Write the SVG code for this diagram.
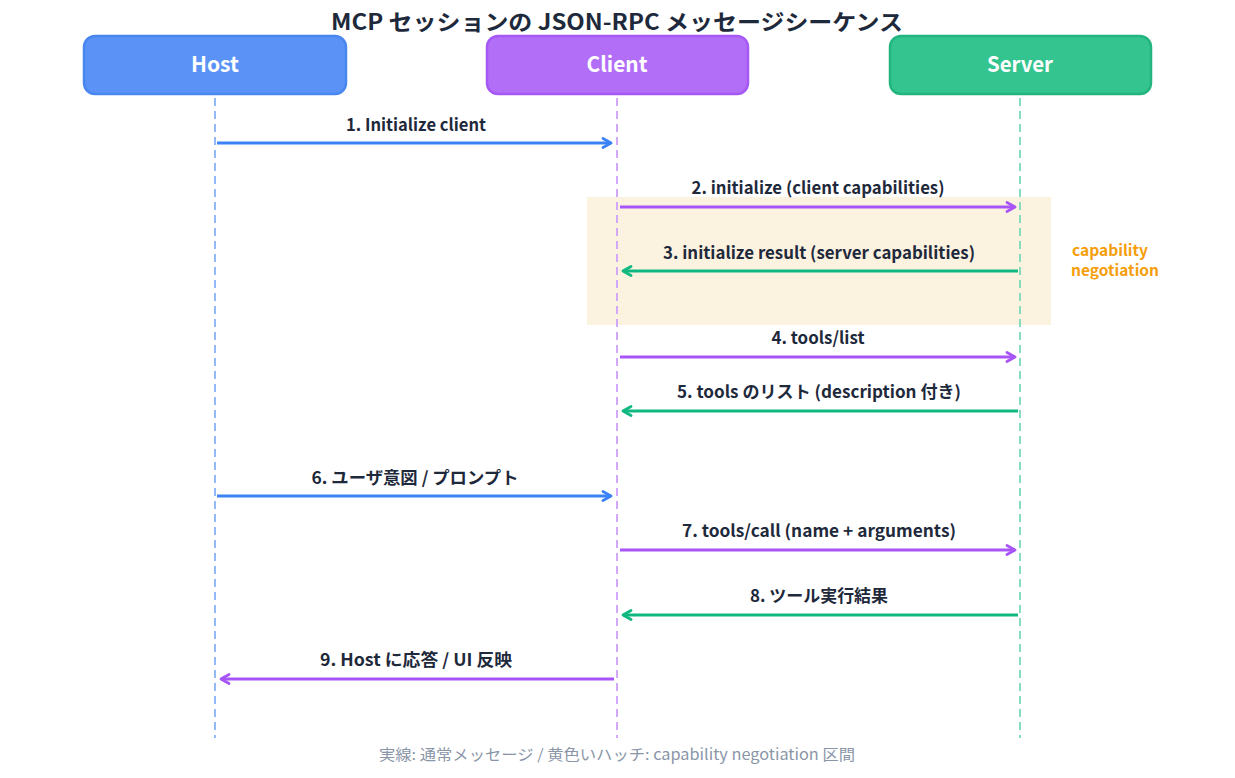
<svg xmlns="http://www.w3.org/2000/svg" width="1235" height="778" viewBox="0 0 1235 778">
<defs>
<style>
text{font-family:"Noto Sans CJK JP","Noto Sans",sans-serif}
.title{font-size:22px;font-weight:700;fill:#1e293b}
.box{font-size:21px;font-weight:700;fill:#ffffff}
.lbl{font-size:17px;font-weight:700;fill:#1e293b}
.note{font-size:15px;font-weight:700;fill:#f59e0b}
.foot{font-size:15px;font-weight:400;fill:#8a96a8}
.life{stroke-width:2;stroke-dasharray:8 5;fill:none}
.msg{stroke-width:2.8;fill:none}
</style>
<marker id="mb" viewBox="0 0 12 12" refX="10" refY="6" markerWidth="12" markerHeight="12" markerUnits="userSpaceOnUse" orient="auto"><path d="M2,1.5 L10,6 L2,10.5" fill="none" stroke="#3b82f6" stroke-width="2.8" stroke-linecap="round" stroke-linejoin="round"/></marker>
<marker id="mp" viewBox="0 0 12 12" refX="10" refY="6" markerWidth="12" markerHeight="12" markerUnits="userSpaceOnUse" orient="auto"><path d="M2,1.5 L10,6 L2,10.5" fill="none" stroke="#a855f7" stroke-width="2.8" stroke-linecap="round" stroke-linejoin="round"/></marker>
<marker id="mg" viewBox="0 0 12 12" refX="10" refY="6" markerWidth="12" markerHeight="12" markerUnits="userSpaceOnUse" orient="auto"><path d="M2,1.5 L10,6 L2,10.5" fill="none" stroke="#10b981" stroke-width="2.8" stroke-linecap="round" stroke-linejoin="round"/></marker>
</defs>
<rect width="1235" height="778" fill="#ffffff"/>
<text class="title" x="617" y="30" text-anchor="middle" textLength="572" lengthAdjust="spacingAndGlyphs">MCP セッションの JSON-RPC メッセージシーケンス</text>

<rect x="587" y="197" width="464" height="128" fill="#fcf2e0"/>
<text class="note" x="1072" y="256" textLength="76" lengthAdjust="spacingAndGlyphs">capability</text>
<text class="note" x="1071" y="276" textLength="88" lengthAdjust="spacingAndGlyphs">negotiation</text>

<g id="lifelines">
<line class="life" x1="215" y1="98" x2="215" y2="738" stroke="#93b8f8"/>
<line class="life" x1="617" y1="98" x2="617" y2="738" stroke="#d2a8fb"/>
<line class="life" x1="1020" y1="98" x2="1020" y2="738" stroke="#86dcbc"/>
</g>

<g id="host">
<rect x="84" y="36" width="262" height="58" rx="11" fill="#5a93f5" stroke="#4a86f0" stroke-width="2.5"/>
<text class="box" x="215" y="72" text-anchor="middle" textLength="48" lengthAdjust="spacingAndGlyphs">Host</text>
</g>
<g id="client">
<rect x="487" y="36" width="261" height="58" rx="11" fill="#b36ef8" stroke="#a658f5" stroke-width="2.5"/>
<text class="box" x="617" y="72" text-anchor="middle" textLength="61" lengthAdjust="spacingAndGlyphs">Client</text>
</g>
<g id="server">
<rect x="890" y="36" width="261" height="58" rx="11" fill="#34c48f" stroke="#22b57f" stroke-width="2.5"/>
<text class="box" x="1020" y="72" text-anchor="middle" textLength="66" lengthAdjust="spacingAndGlyphs">Server</text>
</g>

<g id="connectors">
<line class="msg" x1="217" y1="143" x2="611" y2="143" stroke="#3b82f6" marker-end="url(#mb)"/>
<text class="lbl" x="416" y="131" text-anchor="middle" textLength="140" lengthAdjust="spacingAndGlyphs">1. Initialize client</text>

<line class="msg" x1="620" y1="207" x2="1015" y2="207" stroke="#a855f7" marker-end="url(#mp)"/>
<text class="lbl" x="818" y="194" text-anchor="middle" textLength="253" lengthAdjust="spacingAndGlyphs">2. initialize (client capabilities)</text>

<line class="msg" x1="1018" y1="271" x2="623" y2="271" stroke="#10b981" marker-end="url(#mg)"/>
<text class="lbl" x="819" y="259" text-anchor="middle" textLength="312" lengthAdjust="spacingAndGlyphs">3. initialize result (server capabilities)</text>

<line class="msg" x1="620" y1="357" x2="1015" y2="357" stroke="#a855f7" marker-end="url(#mp)"/>
<text class="lbl" x="818" y="344" text-anchor="middle" textLength="93" lengthAdjust="spacingAndGlyphs">4. tools/list</text>

<line class="msg" x1="1018" y1="411" x2="623" y2="411" stroke="#10b981" marker-end="url(#mg)"/>
<text class="lbl" x="819" y="398" text-anchor="middle" textLength="284" lengthAdjust="spacingAndGlyphs">5. tools のリスト (description 付き)</text>

<line class="msg" x1="217" y1="496" x2="611" y2="496" stroke="#3b82f6" marker-end="url(#mb)"/>
<text class="lbl" x="415" y="484" text-anchor="middle" textLength="207" lengthAdjust="spacingAndGlyphs">6. ユーザ意図 / プロンプト</text>

<line class="msg" x1="620" y1="550" x2="1015" y2="550" stroke="#a855f7" marker-end="url(#mp)"/>
<text class="lbl" x="819" y="537" text-anchor="middle" textLength="274" lengthAdjust="spacingAndGlyphs">7. tools/call (name + arguments)</text>

<line class="msg" x1="1018" y1="615" x2="623" y2="615" stroke="#10b981" marker-end="url(#mg)"/>
<text class="lbl" x="819" y="602" text-anchor="middle" textLength="138" lengthAdjust="spacingAndGlyphs">8. ツール実行結果</text>

<line class="msg" x1="614" y1="679" x2="221" y2="679" stroke="#a855f7" marker-end="url(#mp)"/>
<text class="lbl" x="416" y="666" text-anchor="middle" textLength="192" lengthAdjust="spacingAndGlyphs">9. Host に応答 / UI 反映</text>
</g>

<text class="foot" x="617" y="760" text-anchor="middle" textLength="476" lengthAdjust="spacingAndGlyphs">実線: 通常メッセージ / 黄色いハッチ: capability negotiation 区間</text>
</svg>
